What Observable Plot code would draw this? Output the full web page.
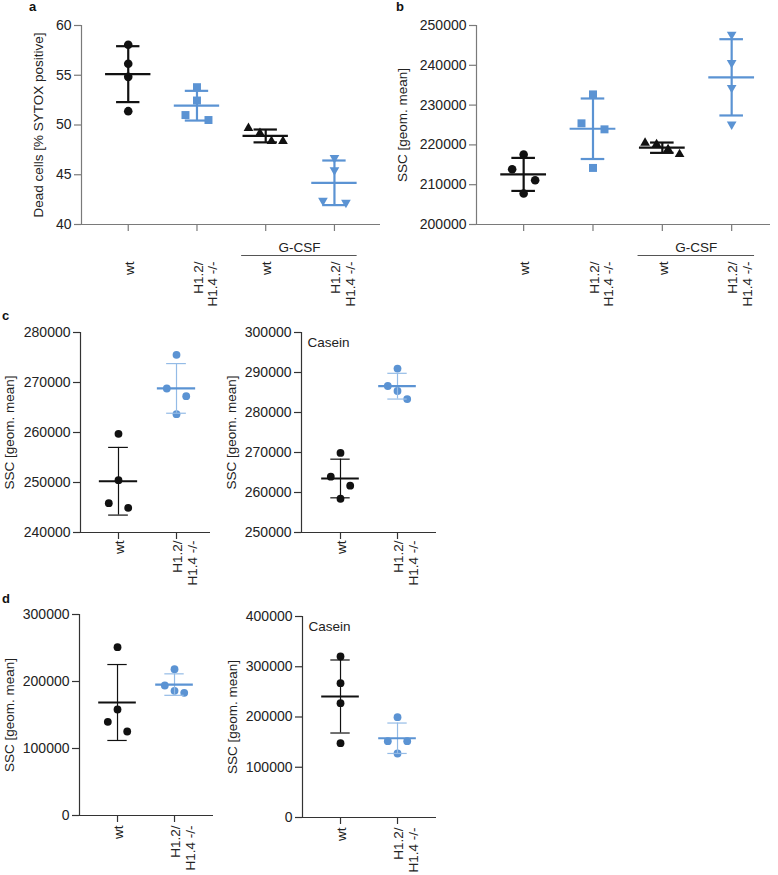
<!DOCTYPE html>
<html><head><meta charset="utf-8">
<script src="https://cdn.jsdelivr.net/npm/d3@7"></script>
<script src="https://cdn.jsdelivr.net/npm/@observablehq/plot@0.6"></script>
<style>
body{margin:0;background:#fff;}
#fig{position:relative;width:778px;height:875px;background:#fff;font-family:'Liberation Sans',Arial,Helvetica,sans-serif;}
.lbl{position:absolute;font-weight:bold;font-size:13px;line-height:13px;color:#111;}
.panel{position:absolute;}
</style></head><body><div id="fig"></div>
<script>
// ---------- data ----------
const catLabels4 = ["wt", "H1.2/\nH1.4 -/-", "wt", "H1.2/\nH1.4 -/-"];
const catLabels2 = ["wt", "H1.2/\nH1.4 -/-"];
const gcsfGroups = [2, 3];
const gcsfLabel = "G-CSF";
const caseinLabel = "Casein";
const titleA = "Dead cells [% SYTOX positive]";
const titleSSC = "SSC [geom. mean]";

// panel a: dead cells (%)
const aWt   = [58.06, 56.15, 54.84, 51.39];
const aKo   = [53.8, 52.46, 51.0, 50.5];
const aGWt  = [49.68, 49.18, 48.37, 48.37];
const aGKo  = [46.7, 45.46, 42.4, 42.2];
const aTicks = [40, 45, 50, 55, 60];
// panel b: SSC
const bWt   = [217560, 213880, 211120, 207780];
const bKo   = [232690, 225420, 223910, 214210];
const bGWt  = [220490, 220150, 218900, 217640];
const bGKo  = [247740, 240630, 234360, 225170];
const bTicks = [200000, 210000, 220000, 230000, 240000, 250000];
// panel c
const cWt   = [259730, 250470, 245870, 244930];
const cKo   = [275530, 268800, 267270, 263670];
const cTicks = [240000, 250000, 260000, 270000, 280000];
const cCasWt = [269900, 263960, 261700, 258440];
const cCasKo = [290970, 286620, 285370, 283360];
const cCasTicks = [250000, 260000, 270000, 280000, 290000, 300000];
// panel d
const dWt   = [251240, 158210, 139800, 125370];
const dKo   = [218410, 194030, 186070, 183080];
const dTicks = [0, 100000, 200000, 300000];
const dCasWt = [320400, 267330, 227530, 147930];
const dCasKo = [199670, 151910, 151910, 127360];
const dCasTicks = [0, 100000, 200000, 300000, 400000];

// ---------- styles ----------
const BLACK = "#111111", BLUE = "#5b93d3", BLUE_LIGHT = "#94bbe6";
const FONT = "'Liberation Sans', Arial, Helvetica, sans-serif";
const triDown = {
  draw(ctx, size) {
    const s3 = Math.sqrt(3);
    const y = -Math.sqrt(size / (s3 * 3));
    ctx.moveTo(0, -y * 2);
    ctx.lineTo(-s3 * y, y);
    ctx.lineTo(s3 * y, y);
    ctx.closePath();
  }
};

// GraphPad-like horizontal spreading of points that crowd together vertically
function spread(values, yPx, thresh, step) {
  const order = d3.range(values.length).sort((a, b) => values[b] - values[a]);
  const clusters = [];
  let cur = [order[0]];
  for (let k = 1; k < order.length; k++) {
    const gap = Math.abs(yPx(values[order[k]]) - yPx(values[order[k - 1]]));
    if (gap < thresh) cur.push(order[k]); else { clusters.push(cur); cur = [order[k]]; }
  }
  clusters.push(cur);
  const off = new Array(values.length).fill(0);
  for (const c of clusters) {
    const n = c.length;
    c.forEach((j, i) => { off[j] = n === 2 ? (i === 0 ? -step : step) : (i - (n - 1) / 2) * step; });
  }
  return off;
}

function makePanel(cfg) {
  const {left, top, width, height, mL, mR, mT, mB, xDomain, ticks, yTitle, titleDx,
         groups, labels, labelDy, axisColor, thin, step, note, gcsf} = cfg;
  const yDomain = [ticks[0], ticks[ticks.length - 1]];
  const fw = width - mL - mR, fh = height - mT - mB;
  const pxPerUnit = fw / (xDomain[1] - xDomain[0]);
  const yPx = d3.scaleLinear(yDomain, [fh, 0]);
  const meanHalf = 0.33, capHalf = 0.17;
  const marks = [
    Plot.ruleX([xDomain[0]], {stroke: axisColor, strokeWidth: 1.2}),
    Plot.ruleY([yDomain[0]], {stroke: axisColor, strokeWidth: 1.2}),
    Plot.axisY({ticks, tickSize: 7, tickPadding: 3, tickFormat: d => String(d), label: null,
                stroke: axisColor, strokeWidth: 1.2, fill: "#222", fontSize: 14}),
    Plot.axisX({ticks: d3.range(labels.length), tickSize: 7, tickFormat: () => "", label: null,
                stroke: axisColor, strokeWidth: 1.2}),
    Plot.text(labels, {x: (d, i) => i, text: d => d, frameAnchor: "bottom", rotate: -90,
                textAnchor: "end", lineAnchor: "top", dy: labelDy, dx: -5, fontSize: 13.5,
                lineHeight: 1.1, fill: "#222"}),
    Plot.text([yTitle], {frameAnchor: "left", text: d => d, rotate: -90, dx: titleDx,
                textAnchor: "middle", lineAnchor: "middle", fontSize: 13.5, fill: "#222"})
  ];
  if (note) {
    marks.push(Plot.text([note], {frameAnchor: "top-left", text: d => d, dx: 6, dy: 5,
      textAnchor: "start", lineAnchor: "top", fontSize: 13.5, fill: "#222"}));
  }
  if (gcsf) {
    const x1 = gcsf[0] - 0.35, x2 = gcsf[gcsf.length - 1] + 0.33;
    marks.push(Plot.ruleY([yDomain[0]], {x1, x2, dy: 31, stroke: "#555", strokeWidth: 1}));
    marks.push(Plot.text([gcsfLabel], {x: (x1 + x2) / 2, y: yDomain[0], dy: 23, text: d => d,
      lineAnchor: "middle", fontSize: 13.5, fill: "#222"}));
  }
  groups.forEach((g, gi) => {
    const off = spread(g.values, yPx, 12, step);
    const pts = g.values.map((v, k) => ({x: gi + off[k] / pxPerUnit, v}));
    marks.push(Plot.dot(pts, {x: "x", y: "v", fill: g.color, r: g.r, symbol: g.symbol}));
    const m = d3.mean(g.values), s = d3.deviation(g.values);
    const st = [{g: gi, mean: m, lo: m - s, hi: m + s}];
    const bc = g.barColor || g.color;
    const bw = thin ? 1.2 : 2.2;
    marks.push(Plot.ruleX(st, {x: "g", y1: "lo", y2: "hi", stroke: bc, strokeWidth: bw}));
    marks.push(Plot.ruleY(st, {y: "lo", x1: d => d.g - capHalf, x2: d => d.g + capHalf, stroke: bc, strokeWidth: bw}));
    marks.push(Plot.ruleY(st, {y: "hi", x1: d => d.g - capHalf, x2: d => d.g + capHalf, stroke: bc, strokeWidth: bw}));
    marks.push(Plot.ruleY(st, {y: "mean", x1: d => d.g - meanHalf, x2: d => d.g + meanHalf, stroke: g.color, strokeWidth: 2.2}));
  });
  const svg = Plot.plot({
    width, height, marginLeft: mL, marginRight: mR, marginTop: mT, marginBottom: mB,
    x: {domain: xDomain}, y: {domain: yDomain},
    style: {fontFamily: FONT, fontSize: "14px", color: "#222", background: "transparent", overflow: "visible"},
    marks
  });
  svg.classList.add("panel");
  svg.style.left = left + "px";
  svg.style.top = top + "px";
  svg.style.position = "absolute";
  return svg;
}

const fig = document.getElementById("fig");
const panels = [
  { left: 0, top: 0, width: 385, height: 320, mL: 81, mR: 5, mT: 25, mB: 96,
    xDomain: [-0.68, 3.67], ticks: aTicks, yTitle: titleA, titleDx: -43, labels: catLabels4, labelDy: 37,
    axisColor: "#7a7a7a", thin: false, step: 11.5, gcsf: gcsfGroups,
    groups: [
      {values: aWt, color: BLACK, symbol: "circle", r: 4.3},
      {values: aKo, color: BLUE, symbol: "square", r: 4.5},
      {values: aGWt, color: BLACK, symbol: "triangle", r: 3.6},
      {values: aGKo, color: BLUE, symbol: triDown, r: 3.6}
    ]},
  { left: 385, top: 0, width: 390, height: 320, mL: 91, mR: 5, mT: 25, mB: 96,
    xDomain: [-0.68, 3.56], ticks: bTicks, yTitle: titleSSC, titleDx: -74, labels: catLabels4, labelDy: 37,
    axisColor: "#7a7a7a", thin: false, step: 11.5, gcsf: gcsfGroups,
    groups: [
      {values: bWt, color: BLACK, symbol: "circle", r: 4.3},
      {values: bKo, color: BLUE, symbol: "square", r: 4.5},
      {values: bGWt, color: BLACK, symbol: "triangle", r: 3.6},
      {values: bGKo, color: BLUE, symbol: triDown, r: 3.6}
    ]},
  { left: 0, top: 300, width: 215, height: 290, mL: 80, mR: 5, mT: 32, mB: 58,
    xDomain: [-0.655, 1.586], ticks: cTicks, yTitle: titleSSC, titleDx: -71, labels: catLabels2, labelDy: 8,
    axisColor: "#333", thin: true, step: 9.7,
    groups: [
      {values: cWt, color: BLACK, symbol: "circle", r: 3.9},
      {values: cKo, color: BLUE, barColor: BLUE_LIGHT, symbol: "circle", r: 3.9}
    ]},
  { left: 215, top: 300, width: 225, height: 290, mL: 86, mR: 4, mT: 32, mB: 58,
    xDomain: [-0.684, 1.684], ticks: cCasTicks, yTitle: titleSSC, titleDx: -70, labels: catLabels2, labelDy: 8,
    axisColor: "#333", thin: true, step: 9.7, note: caseinLabel,
    groups: [
      {values: cCasWt, color: BLACK, symbol: "circle", r: 3.9},
      {values: cCasKo, color: BLUE, barColor: BLUE_LIGHT, symbol: "circle", r: 3.9}
    ]},
  { left: 0, top: 580, width: 218, height: 295, mL: 79, mR: 5, mT: 34, mB: 60,
    xDomain: [-0.667, 1.684], ticks: dTicks, yTitle: titleSSC, titleDx: -70, labels: catLabels2, labelDy: 10,
    axisColor: "#333", thin: true, step: 9.7,
    groups: [
      {values: dWt, color: BLACK, symbol: "circle", r: 3.9},
      {values: dKo, color: BLUE, barColor: BLUE_LIGHT, symbol: "circle", r: 3.9}
    ]},
  { left: 220, top: 580, width: 222, height: 295, mL: 82, mR: 6, mT: 36, mB: 58,
    xDomain: [-0.667, 1.684], ticks: dCasTicks, yTitle: titleSSC, titleDx: -70, labels: catLabels2, labelDy: 10,
    axisColor: "#333", thin: true, step: 9.7, note: caseinLabel,
    groups: [
      {values: dCasWt, color: BLACK, symbol: "circle", r: 3.9},
      {values: dCasKo, color: BLUE, barColor: BLUE_LIGHT, symbol: "circle", r: 3.9}
    ]}
];
panels.forEach(p => fig.appendChild(makePanel(p)));

const letters = [["a", 29, 0], ["b", 396, 0], ["c", 2, 309], ["d", 2, 592]];
letters.forEach(([t, x, y]) => {
  const el = document.createElement("div");
  el.className = "lbl";
  el.textContent = t;
  el.style.left = x + "px";
  el.style.top = y + "px";
  fig.appendChild(el);
});
</script>
</body></html>
